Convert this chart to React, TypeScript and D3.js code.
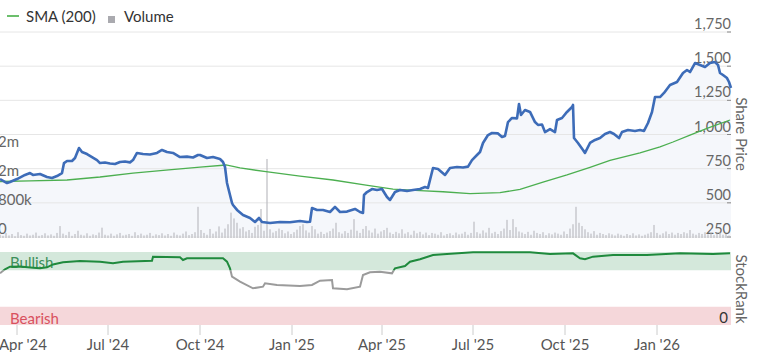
import React from 'react';
import * as d3 from 'd3';

// chart size
const width = 758;
const height = 352;
const plotRight = 731;

// share price
const priceDates = [
  '2024-03-15', '2024-03-22', '2024-03-25', '2024-04-01', '2024-04-09', '2024-04-14', '2024-04-17', '2024-04-24',
  '2024-05-01', '2024-05-06', '2024-05-11', '2024-05-16', '2024-05-18', '2024-05-21', '2024-05-26', '2024-05-29',
  '2024-06-02', '2024-06-05', '2024-06-10', '2024-06-15', '2024-06-20', '2024-06-23', '2024-06-28', '2024-07-03',
  '2024-07-08', '2024-07-13', '2024-07-18', '2024-07-23', '2024-07-26', '2024-07-30', '2024-08-05', '2024-08-12',
  '2024-08-19', '2024-08-24', '2024-08-29', '2024-09-04', '2024-09-11', '2024-09-18', '2024-09-24', '2024-09-29',
  '2024-10-01', '2024-10-08', '2024-10-14', '2024-10-21', '2024-10-24', '2024-10-26', '2024-10-28', '2024-10-31',
  '2024-11-02', '2024-11-03', '2024-11-07', '2024-11-13', '2024-11-20', '2024-11-25', '2024-11-29', '2024-12-02',
  '2024-12-10', '2024-12-20', '2024-12-30', '2025-01-09', '2025-01-16', '2025-01-19', '2025-01-21', '2025-01-26',
  '2025-02-01', '2025-02-08', '2025-02-13', '2025-02-18', '2025-02-25', '2025-03-05', '2025-03-10', '2025-03-13',
  '2025-03-14', '2025-03-17', '2025-03-22', '2025-03-27', '2025-04-01', '2025-04-06', '2025-04-09', '2025-04-14',
  '2025-04-19', '2025-04-26', '2025-05-02', '2025-05-09', '2025-05-14', '2025-05-17', '2025-05-22', '2025-05-27',
  '2025-06-03', '2025-06-08', '2025-06-15', '2025-06-21', '2025-06-26', '2025-06-30', '2025-07-05', '2025-07-08',
  '2025-07-11', '2025-07-16', '2025-07-20', '2025-07-26', '2025-07-30', '2025-08-02', '2025-08-05', '2025-08-09',
  '2025-08-14', '2025-08-16', '2025-08-18', '2025-08-22', '2025-08-27', '2025-09-01', '2025-09-04', '2025-09-08',
  '2025-09-11', '2025-09-16', '2025-09-21', '2025-09-23', '2025-09-28', '2025-10-03', '2025-10-08', '2025-10-09',
  '2025-10-10', '2025-10-14', '2025-10-19', '2025-10-21', '2025-10-26', '2025-10-31', '2025-11-05', '2025-11-10',
  '2025-11-15', '2025-11-19', '2025-11-24', '2025-11-27', '2025-12-03', '2025-12-10', '2025-12-15', '2025-12-19',
  '2025-12-23', '2025-12-27', '2025-12-30', '2026-01-04', '2026-01-08', '2026-01-14', '2026-01-21', '2026-01-27',
  '2026-01-31', '2026-02-03', '2026-02-08', '2026-02-13', '2026-02-18', '2026-02-23', '2026-02-28', '2026-03-03',
  '2026-03-05', '2026-03-08', '2026-03-12', '2026-03-14', '2026-03-16',
];
const priceValues = [
  674, 645, 652, 674, 704, 718, 704, 711,
  689, 682, 696, 718, 791, 806, 806, 828,
  901, 872, 857, 835, 813, 791, 795, 788,
  784, 799, 802, 796, 813, 865, 857, 854,
  865, 887, 872, 865, 835, 838, 832, 850,
  850, 828, 835, 821, 799, 762, 645, 557,
  499, 484, 448, 411, 389, 360, 389, 360,
  352, 360, 358, 367, 360, 362, 462, 448,
  448, 433, 470, 433, 436, 455, 433, 426,
  557, 579, 601, 594, 601, 543, 521, 579,
  594, 587, 594, 601, 616, 609, 755, 748,
  704, 755, 762, 758, 765, 813, 850, 872,
  938, 996, 1011, 1008, 982, 989, 1091, 1121,
  1118, 1223, 1143, 1179, 1165, 1091, 1070, 1073,
  1018, 1040, 1018, 1106, 1121, 1165, 1201, 1216,
  974, 938, 887, 865, 938, 960, 974, 1004,
  1018, 1004, 974, 1018, 1033, 1026, 1033, 1026,
  1084, 1165, 1274, 1274, 1304, 1362, 1384, 1450,
  1472, 1457, 1523, 1509, 1494, 1523, 1530, 1509,
  1450, 1435, 1413, 1384, 1340,
];

// 200 day moving average
const smaDates = [
  '2024-03-15', '2024-04-14', '2024-05-21', '2024-06-23', '2024-07-26', '2024-08-28', '2024-10-01', '2024-10-27',
  '2024-11-10', '2024-12-06', '2025-01-09', '2025-02-11', '2025-03-16', '2025-04-12', '2025-05-09', '2025-06-01',
  '2025-06-28', '2025-07-28', '2025-08-17', '2025-09-09', '2025-10-03', '2025-10-26', '2025-11-15', '2025-12-15',
  '2026-01-04', '2026-01-17', '2026-02-03', '2026-02-20', '2026-03-15',
];
const smaValues = [
  656, 660, 667, 689, 718, 740, 762, 777,
  755, 728, 696, 667, 630, 601, 590, 581,
  568, 574, 599, 652, 704, 759, 810, 865,
  909, 945, 996, 1045, 1106,
];

// StockRank
const rankDates = [
  '2024-03-15', '2024-03-20', '2024-03-25', '2024-04-04', '2024-04-17', '2024-04-24', '2024-05-01', '2024-05-07',
  '2024-05-17', '2024-06-03', '2024-06-23', '2024-07-06', '2024-07-16', '2024-08-14', '2024-08-15', '2024-09-11',
  '2024-09-14', '2024-09-18', '2024-10-24', '2024-10-28', '2024-10-31', '2024-11-02', '2024-11-10', '2024-11-23',
  '2024-12-03', '2024-12-05', '2024-12-17', '2025-01-09', '2025-01-21', '2025-01-29', '2025-02-10', '2025-02-11',
  '2025-02-25', '2025-03-10', '2025-03-13', '2025-03-20', '2025-03-30', '2025-04-11', '2025-04-14', '2025-04-24',
  '2025-04-29', '2025-05-09', '2025-05-22', '2025-06-05', '2025-07-01', '2025-08-27', '2025-09-16', '2025-10-09',
  '2025-10-16', '2025-10-21', '2025-10-29', '2025-11-18', '2025-12-22', '2026-01-24', '2026-02-26', '2026-03-15',
];
const rankValues = [
  70.8, 76.3, 79.9, 80, 78.5, 77.7, 79, 83,
  86, 87.7, 86.7, 84.5, 86.7, 88, 93.6, 92.7,
  89, 91.4, 91.4, 86.7, 77.7, 66.2, 59.3, 50.3,
  52.5, 57.1, 54.8, 53.4, 54.8, 60.7, 61.6, 50.3,
  48.9, 52.5, 68.5, 72.2, 73, 70.8, 77.7, 80.8,
  86.7, 90, 95.9, 97.3, 99.6, 99.6, 97.3, 98.2,
  91.4, 90, 93.6, 95.9, 95.9, 98.2, 97.3, 98.2,
];

// volume in thousands, one bar every 3 days from volumeStart
const volumeStart = '2024-03-15';
const volumeStepDays = 3;
const volumeValues = [
  90, 60, 140, 70, 110, 50, 160, 80, 60, 120, 70, 90, 150, 60, 80, 130, 70, 100, 60, 140,
  330, 120, 80, 170, 60, 110, 200, 90, 70, 130, 60, 100, 80, 150, 285, 90, 70, 120, 60, 100,
  140, 70, 90, 110, 60, 160, 80, 120, 70, 90, 140, 60, 100, 80, 130, 70, 110, 60, 150, 90,
  70, 120, 180, 80, 110, 160, 860, 220, 140, 90, 250, 120, 180, 320, 150, 260, 380, 700, 540, 420,
  260, 300, 180, 220, 140, 310, 360, 800, 200, 2180, 240, 150, 190, 260, 220, 130, 180, 110, 160, 230,
  330, 380, 210, 150, 330, 240, 120, 170, 110, 150, 190, 260, 420, 160, 120, 190, 140, 230, 520, 200,
  140, 250, 330, 210, 150, 260, 120, 180, 220, 280, 150, 110, 170, 130, 240, 120, 160, 90, 200, 130,
  170, 100, 150, 80, 140, 120, 90, 160, 70, 110, 130, 80, 150, 100, 120, 170, 90, 140, 450, 160,
  120, 210, 150, 280, 130, 170, 110, 190, 260, 500, 220, 520, 300, 180, 150, 110, 170, 90, 200, 140,
  110, 160, 80, 130, 100, 150, 120, 90, 180, 110, 260, 380, 860, 420, 330, 240, 160, 120, 190, 90,
  140, 110, 80, 130, 100, 70, 120, 90, 60, 110, 80, 130, 70, 100, 60, 90, 120, 160, 360, 140,
  90, 130, 180, 110, 150, 90, 140, 110, 160, 130, 220, 120, 90, 140, 110, 160, 100, 130, 80, 120,
  150, 90, 110, 70,
];

const priceTicks = [250, 500, 750, 1000, 1250, 1500, 1750];
const volumeTicks = [0, 800000, 1600000, 2400000];
const dateTicks = ['2024-04-01', '2024-07-01', '2024-10-01', '2025-01-01', '2025-04-01', '2025-07-01', '2025-10-01', '2026-01-01'];

const parse = (s: string) => new Date(s + 'T00:00:00Z');
const font = 'Lato, "Open Sans", sans-serif';

const x = d3.scaleUtc().domain([parse('2024-03-15'), parse('2026-03-16')]).range([0, plotRight]);
const yPrice = d3.scaleLinear().domain([250, 1750]).range([237, 32]);
const yVol = d3.scaleLinear().domain([0, 2400000]).range([238, 151]);
const yRank = d3.scaleLinear().domain([0, 100]).range([325, 252]);

const fmtVol = (v: number) => (v === 0 ? '0' : d3.format('.1s')(v).replace('M', 'm'));
const fmtDate = d3.utcFormat("%b '%y");

const App: React.FC = () => {
  const price = priceDates.map((d, i) => ({ date: parse(d), value: priceValues[i] }));
  const sma = smaDates.map((d, i) => ({ date: parse(d), value: smaValues[i] }));
  const rank = rankDates.map((d, i) => ({ date: parse(d), value: rankValues[i] }));
  const vStart = parse(volumeStart);
  const volume = volumeValues.map((v, i) => ({ date: d3.utcDay.offset(vStart, i * volumeStepDays), value: v * 1000 }));

  const priceLine = d3.line<{ date: Date; value: number }>().x(d => x(d.date)).y(d => yPrice(d.value));
  const priceArea = d3.area<{ date: Date; value: number }>().x(d => x(d.date)).y0(238).y1(d => yPrice(d.value));
  const rankLine = d3.line<{ date: Date; value: number }>().x(d => x(d.date)).y(d => yRank(d.value));
  const split = yRank(75);

  return (
    <div style={{ position: 'absolute', left: 0, top: 0 }}>
      <svg width={width} height={height} style={{ display: 'block', fontFamily: font }}>
        <defs>
          <clipPath id="rankHigh"><rect x={0} y={240} width={plotRight} height={split - 240} /></clipPath>
          <clipPath id="rankLow"><rect x={0} y={split} width={plotRight} height={340 - split} /></clipPath>
        </defs>

        {/* legend */}
        <line x1={7} x2={19} y1={16} y2={16} stroke="#6cbf6c" strokeWidth={2} />
        <text x={26} y={21.5} fontSize={15} fill="#333">SMA (200)</text>
        <rect x={108} y={16} width={7} height={7} fill="#aaaaaf" />
        <text x={124} y={21.5} fontSize={15} fill="#333">Volume</text>

        {/* price panel */}
        <path d={priceArea(price) || ''} fill="#f5f7fb" />
        {priceTicks.map(t => (
          <g key={t}>
            <line x1={0} x2={plotRight} y1={yPrice(t)} y2={yPrice(t)} stroke="#e6e6e6" />
            <line x1={727} x2={plotRight} y1={yPrice(t)} y2={yPrice(t)} stroke="#888" />
            <text x={plotRight} y={yPrice(t) - 3} fontSize={14.5} fill="#666" textAnchor="end">{d3.format(',')(t)}</text>
          </g>
        ))}
        {volume.map((d, i) => (
          <rect key={i} x={x(d.date) - 0.6} y={yVol(d.value)} width={1.2} height={yVol(0) - yVol(d.value)} fill="#bdbdc2" />
        ))}
        {volumeTicks.map(t => (
          <text key={t} x={-2} y={yVol(t) - 4} fontSize={15} fill="#666">{fmtVol(t)}</text>
        ))}
        <path d={priceLine(sma) || ''} fill="none" stroke="#4caf50" strokeWidth={1.3} />
        <path d={priceLine(price) || ''} fill="none" stroke="#3d6cb8" strokeWidth={2.6} strokeLinejoin="round" />
        <text transform={`translate(742,134) rotate(90)`} fontSize={15} fill="#666" textAnchor="middle" dominantBaseline="central">Share Price</text>

        {/* StockRank panel */}
        <rect x={0} y={yRank(100)} width={plotRight} height={yRank(75) - yRank(100)} fill="#d4e8db" />
        <rect x={0} y={yRank(25)} width={plotRight} height={yRank(0) - yRank(25)} fill="#f5d7da" />
        <text x={10} y={268} fontSize={15} fill="#3c8f5a">Bullish</text>
        <text x={10} y={323.5} fontSize={15} fill="#d9505e">Bearish</text>
        <text x={728} y={323} fontSize={15} fill="#333" textAnchor="end">0</text>
        <path d={rankLine(rank) || ''} fill="none" stroke="#9b9b9b" strokeWidth={2} clipPath="url(#rankLow)" />
        <path d={rankLine(rank) || ''} fill="none" stroke="#1f8a3d" strokeWidth={2} clipPath="url(#rankHigh)" />
        <text transform={`translate(742,289) rotate(90)`} fontSize={15} fill="#666" textAnchor="middle" dominantBaseline="central">StockRank</text>

        {/* date axis */}
        {dateTicks.map((d, i) => {
          const tx = x(parse(d));
          const first = tx < 24;
          return (
            <g key={d}>
              <line x1={tx} x2={tx} y1={325} y2={335} stroke="#ccc" />
              <text x={first ? -1 : tx} y={350} fontSize={15} fill="#555" textAnchor={first ? 'start' : 'middle'}>{fmtDate(parse(d))}</text>
            </g>
          );
        })}
      </svg>
    </div>
  );
};

export default App;
